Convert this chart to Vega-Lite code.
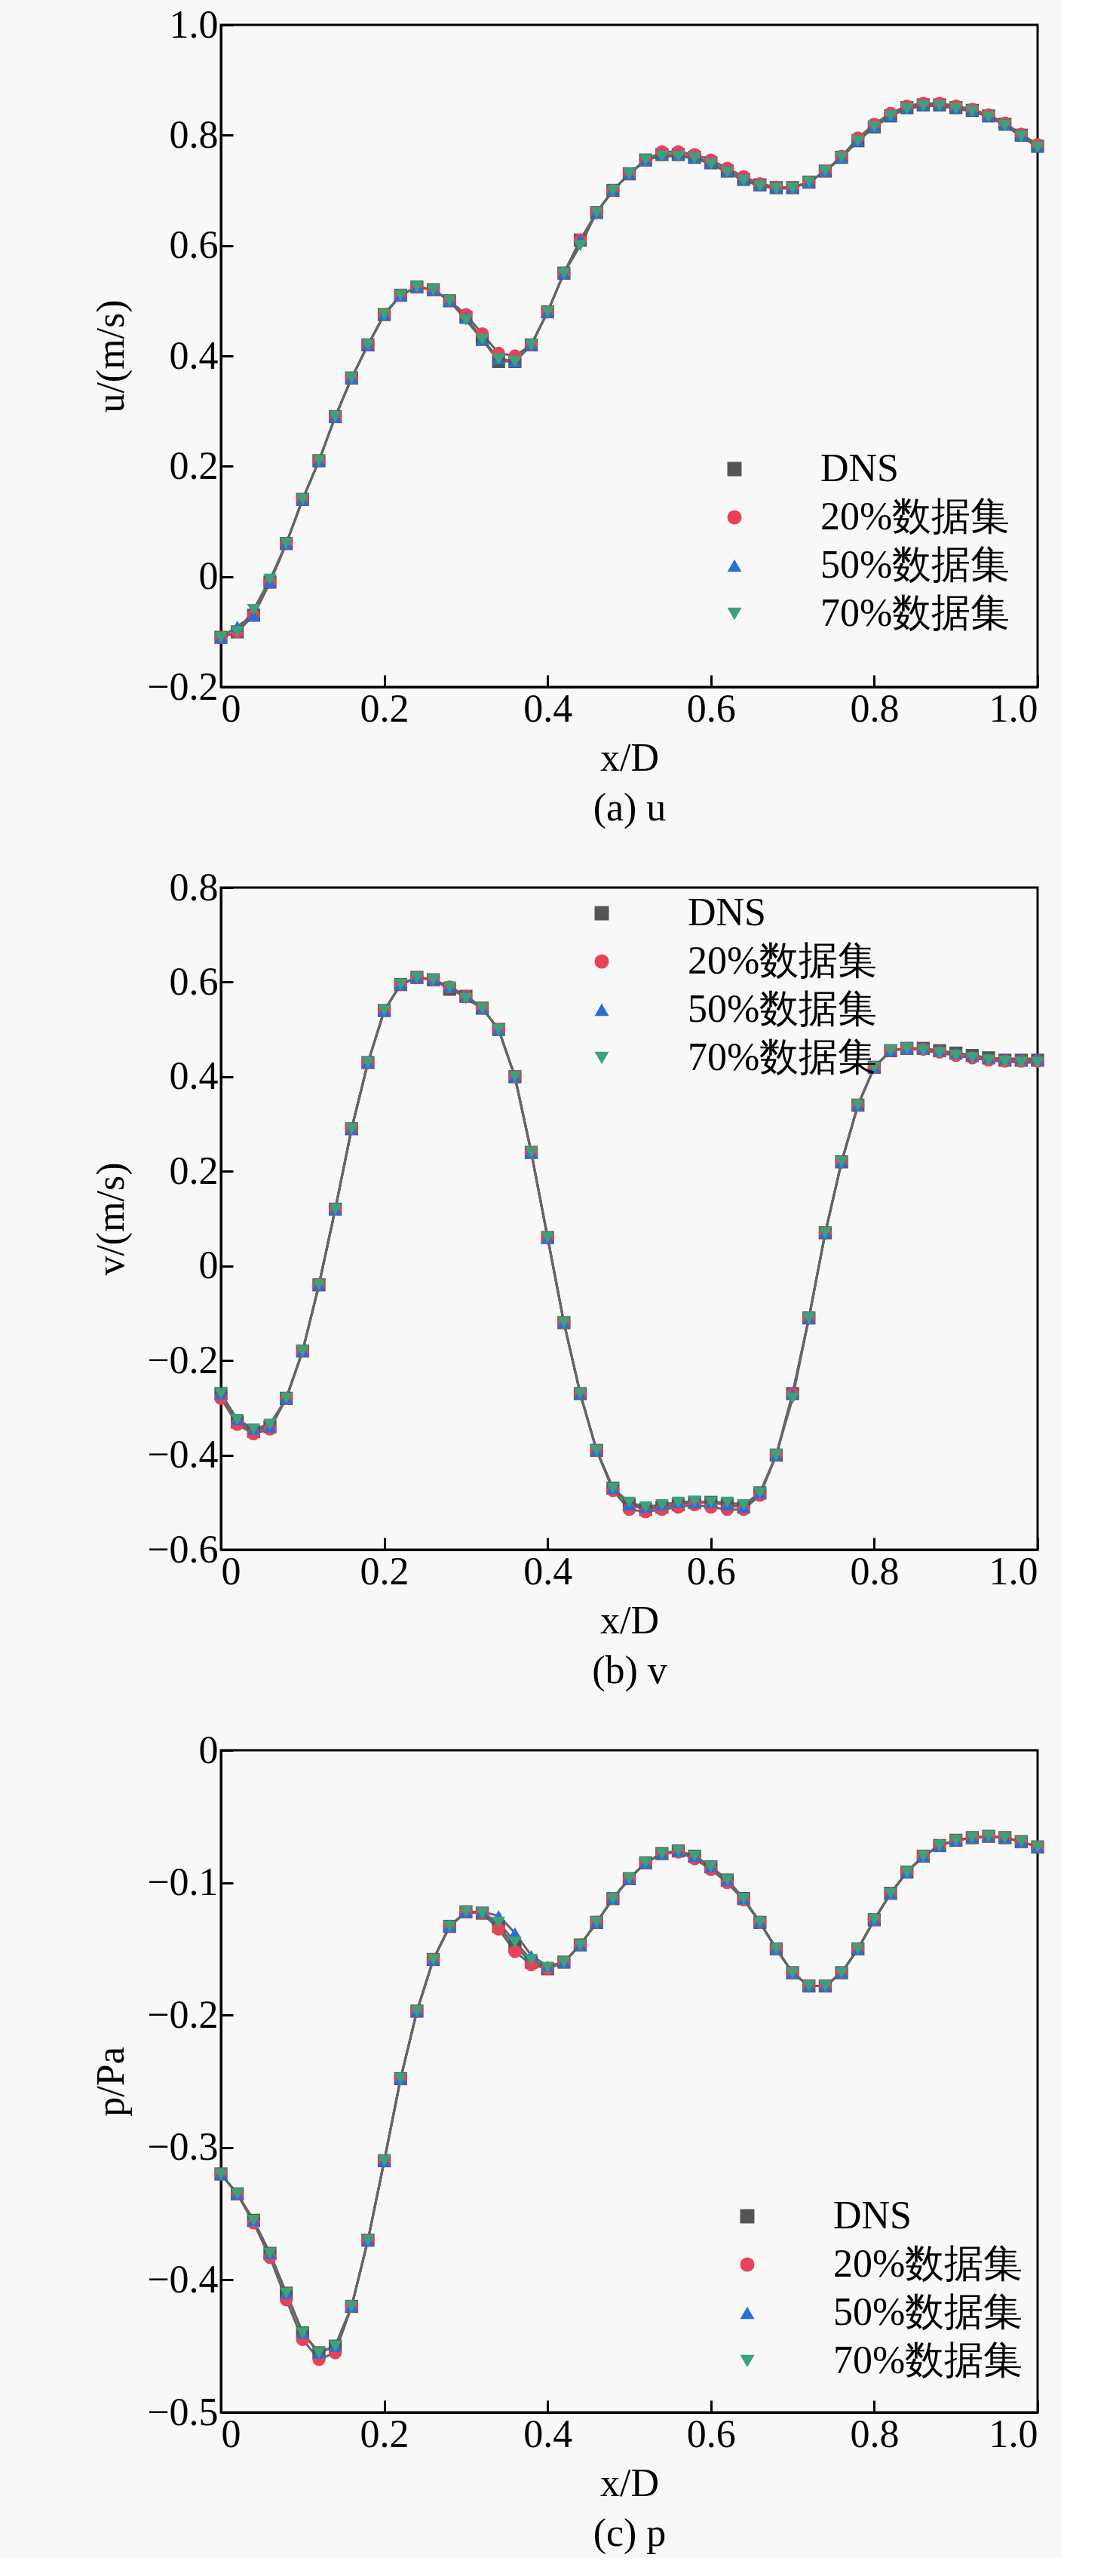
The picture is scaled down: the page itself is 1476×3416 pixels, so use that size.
{
  "$schema": "https://vega.github.io/schema/vega-lite/v6.json",
  "background": "#f8f8f8",
  "padding": {"left": 120, "top": 5, "right": 20, "bottom": 5},
  "spacing": 50,
  "resolve": {"legend": {"color": "independent", "shape": "independent"}},
  "config": {
    "font": "Liberation Serif",
    "view": {"stroke": "#000", "strokeWidth": 3},
    "axis": {"labelFont": "Liberation Serif", "titleFont": "Liberation Serif", "labelFontSize": 52, "titleFontSize": 52, "titleFontWeight": "normal", "labelColor": "#000", "titleColor": "#000", "domainColor": "#000", "domainWidth": 3, "tickColor": "#000", "tickWidth": 3, "tickSize": -16, "labelPadding": 20, "grid": false, "titleLineHeight": 66},
    "legend": {"labelFont": "Liberation Serif", "labelFontSize": 52, "labelColor": "#000", "labelLimit": 0, "symbolSize": 360, "symbolStrokeWidth": 3, "rowPadding": 12, "labelOffset": 88},
    "line": {"strokeWidth": 3},
    "point": {"filled": true, "size": 300, "opacity": 1}
  },
  "vconcat": [
    {
      "width": 1083, "height": 878,
      "data": {"values": [
        {"x":0,"DNS":-0.11,"20%数据集":-0.11,"50%数据集":-0.11,"70%数据集":-0.11},
        {"x":0.02,"DNS":-0.1,"20%数据集":-0.1,"50%数据集":-0.09,"70%数据集":-0.1},
        {"x":0.04,"DNS":-0.07,"20%数据集":-0.07,"50%数据集":-0.07,"70%数据集":-0.06},
        {"x":0.06,"DNS":-0.01,"20%数据集":-0.01,"50%数据集":-0.01,"70%数据集":-0.005},
        {"x":0.08,"DNS":0.06,"20%数据集":0.06,"50%数据集":0.06,"70%数据集":0.06},
        {"x":0.1,"DNS":0.14,"20%数据集":0.14,"50%数据集":0.14,"70%数据集":0.14},
        {"x":0.12,"DNS":0.21,"20%数据集":0.21,"50%数据集":0.21,"70%数据集":0.21},
        {"x":0.14,"DNS":0.29,"20%数据集":0.29,"50%数据集":0.29,"70%数据集":0.29},
        {"x":0.16,"DNS":0.36,"20%数据集":0.36,"50%数据集":0.36,"70%数据集":0.36},
        {"x":0.18,"DNS":0.42,"20%数据集":0.42,"50%数据集":0.42,"70%数据集":0.42},
        {"x":0.2,"DNS":0.475,"20%数据集":0.475,"50%数据集":0.475,"70%数据集":0.475},
        {"x":0.22,"DNS":0.51,"20%数据集":0.51,"50%数据集":0.51,"70%数据集":0.51},
        {"x":0.24,"DNS":0.525,"20%数据集":0.525,"50%数据集":0.525,"70%数据集":0.525},
        {"x":0.26,"DNS":0.52,"20%数据集":0.52,"50%数据集":0.52,"70%数据集":0.52},
        {"x":0.28,"DNS":0.5,"20%数据集":0.5,"50%数据集":0.5,"70%数据集":0.5},
        {"x":0.3,"DNS":0.47,"20%数据集":0.475,"50%数据集":0.47,"70%数据集":0.465},
        {"x":0.32,"DNS":0.43,"20%数据集":0.44,"50%数据集":0.43,"70%数据集":0.43},
        {"x":0.34,"DNS":0.39,"20%数据集":0.405,"50%数据集":0.395,"70%数据集":0.395},
        {"x":0.36,"DNS":0.39,"20%数据集":0.4,"50%数据集":0.39,"70%数据集":0.39},
        {"x":0.38,"DNS":0.42,"20%数据集":0.42,"50%数据集":0.42,"70%数据集":0.42},
        {"x":0.4,"DNS":0.48,"20%数据集":0.48,"50%数据集":0.48,"70%数据集":0.48},
        {"x":0.42,"DNS":0.55,"20%数据集":0.55,"50%数据集":0.55,"70%数据集":0.55},
        {"x":0.44,"DNS":0.61,"20%数据集":0.61,"50%数据集":0.61,"70%数据集":0.6},
        {"x":0.46,"DNS":0.66,"20%数据集":0.66,"50%数据集":0.66,"70%数据集":0.66},
        {"x":0.48,"DNS":0.7,"20%数据集":0.7,"50%数据集":0.7,"70%数据集":0.7},
        {"x":0.5,"DNS":0.73,"20%数据集":0.73,"50%数据集":0.73,"70%数据集":0.73},
        {"x":0.52,"DNS":0.755,"20%数据集":0.755,"50%数据集":0.755,"70%数据集":0.755},
        {"x":0.54,"DNS":0.765,"20%数据集":0.77,"50%数据集":0.765,"70%数据集":0.762},
        {"x":0.56,"DNS":0.765,"20%数据集":0.77,"50%数据集":0.765,"70%数据集":0.762},
        {"x":0.58,"DNS":0.76,"20%数据集":0.765,"50%数据集":0.76,"70%数据集":0.758},
        {"x":0.6,"DNS":0.75,"20%数据集":0.755,"50%数据集":0.75,"70%数据集":0.748},
        {"x":0.62,"DNS":0.735,"20%数据集":0.74,"50%数据集":0.735,"70%数据集":0.733},
        {"x":0.64,"DNS":0.72,"20%数据集":0.725,"50%数据集":0.72,"70%数据集":0.718},
        {"x":0.66,"DNS":0.71,"20%数据集":0.712,"50%数据集":0.71,"70%数据集":0.708},
        {"x":0.68,"DNS":0.705,"20%数据集":0.706,"50%数据集":0.705,"70%数据集":0.703},
        {"x":0.7,"DNS":0.705,"20%数据集":0.705,"50%数据集":0.705,"70%数据集":0.704},
        {"x":0.72,"DNS":0.715,"20%数据集":0.715,"50%数据集":0.715,"70%数据集":0.715},
        {"x":0.74,"DNS":0.735,"20%数据集":0.735,"50%数据集":0.735,"70%数据集":0.735},
        {"x":0.76,"DNS":0.76,"20%数据集":0.762,"50%数据集":0.76,"70%数据集":0.76},
        {"x":0.78,"DNS":0.79,"20%数据集":0.795,"50%数据集":0.79,"70%数据集":0.79},
        {"x":0.8,"DNS":0.815,"20%数据集":0.82,"50%数据集":0.815,"70%数据集":0.815},
        {"x":0.82,"DNS":0.835,"20%数据集":0.84,"50%数据集":0.835,"70%数据集":0.835},
        {"x":0.84,"DNS":0.85,"20%数据集":0.853,"50%数据集":0.85,"70%数据集":0.848},
        {"x":0.86,"DNS":0.855,"20%数据集":0.858,"50%数据集":0.855,"70%数据集":0.853},
        {"x":0.88,"DNS":0.855,"20%数据集":0.858,"50%数据集":0.855,"70%数据集":0.853},
        {"x":0.9,"DNS":0.85,"20%数据集":0.853,"50%数据集":0.85,"70%数据集":0.848},
        {"x":0.92,"DNS":0.845,"20%数据集":0.847,"50%数据集":0.845,"70%数据集":0.843},
        {"x":0.94,"DNS":0.835,"20%数据集":0.837,"50%数据集":0.835,"70%数据集":0.833},
        {"x":0.96,"DNS":0.82,"20%数据集":0.822,"50%数据集":0.82,"70%数据集":0.818},
        {"x":0.98,"DNS":0.8,"20%数据集":0.802,"50%数据集":0.8,"70%数据集":0.798},
        {"x":1,"DNS":0.78,"20%数据集":0.783,"50%数据集":0.78,"70%数据集":0.778}
      ]},
      "transform": [{"fold": ["DNS", "20%数据集", "50%数据集", "70%数据集"], "as": ["series", "value"]}],
      "encoding": {
        "x": {"field": "x", "type": "quantitative", "scale": {"domain": [0, 1], "nice": false}, "axis": {"values": [0, 0.2, 0.4, 0.6, 0.8, 1], "labelExpr": "datum.value == 0 ? '0' : format(datum.value, '.1f')", "title": ["x/D", "(a) u"], "titlePadding": 14}},
        "y": {"field": "value", "type": "quantitative", "scale": {"domain": [-0.2, 1], "nice": false}, "axis": {"values": [-0.2, 0, 0.2, 0.4, 0.6, 0.8, 1], "labelExpr": "datum.value == 0 ? '0' : replace(format(datum.value, '.1f'), '-', '−')", "title": "u/(m/s)", "titlePadding": 20}}
      },
      "layer": [
        {"mark": {"type": "line", "color": "#666666"}, "encoding": {"detail": {"field": "series"}}},
        {"mark": {"type": "point"}, "encoding": {
          "color": {"field": "series", "type": "nominal", "scale": {"domain": ["DNS", "20%数据集", "50%数据集", "70%数据集"], "range": ["#555555", "#e8415a", "#2a6fd6", "#3aa37a"]}, "legend": {"title": null, "orient": "none", "legendX": 655, "legendY": 563}},
          "shape": {"field": "series", "type": "nominal", "scale": {"domain": ["DNS", "20%数据集", "50%数据集", "70%数据集"], "range": ["square", "circle", "triangle-up", "triangle-down"]}, "legend": {"title": null, "orient": "none", "legendX": 655, "legendY": 563}}
        }}
      ]
    },
    {
      "width": 1083, "height": 878,
      "data": {"values": [
        {"x":0,"DNS":-0.27,"20%数据集":-0.28,"50%数据集":-0.27,"70%数据集":-0.27},
        {"x":0.02,"DNS":-0.33,"20%数据集":-0.335,"50%数据集":-0.325,"70%数据集":-0.325},
        {"x":0.04,"DNS":-0.35,"20%数据集":-0.355,"50%数据集":-0.345,"70%数据集":-0.345},
        {"x":0.06,"DNS":-0.34,"20%数据集":-0.345,"50%数据集":-0.34,"70%数据集":-0.335},
        {"x":0.08,"DNS":-0.28,"20%数据集":-0.28,"50%数据集":-0.28,"70%数据集":-0.28},
        {"x":0.1,"DNS":-0.18,"20%数据集":-0.18,"50%数据集":-0.18,"70%数据集":-0.18},
        {"x":0.12,"DNS":-0.04,"20%数据集":-0.04,"50%数据集":-0.04,"70%数据集":-0.04},
        {"x":0.14,"DNS":0.12,"20%数据集":0.12,"50%数据集":0.12,"70%数据集":0.12},
        {"x":0.16,"DNS":0.29,"20%数据集":0.29,"50%数据集":0.29,"70%数据集":0.29},
        {"x":0.18,"DNS":0.43,"20%数据集":0.43,"50%数据集":0.43,"70%数据集":0.43},
        {"x":0.2,"DNS":0.54,"20%数据集":0.54,"50%数据集":0.54,"70%数据集":0.54},
        {"x":0.22,"DNS":0.595,"20%数据集":0.595,"50%数据集":0.595,"70%数据集":0.595},
        {"x":0.24,"DNS":0.61,"20%数据集":0.61,"50%数据集":0.61,"70%数据集":0.61},
        {"x":0.26,"DNS":0.605,"20%数据集":0.605,"50%数据集":0.605,"70%数据集":0.605},
        {"x":0.28,"DNS":0.585,"20%数据集":0.59,"50%数据集":0.59,"70%数据集":0.59},
        {"x":0.3,"DNS":0.57,"20%数据集":0.57,"50%数据集":0.572,"70%数据集":0.565},
        {"x":0.32,"DNS":0.545,"20%数据集":0.545,"50%数据集":0.545,"70%数据集":0.545},
        {"x":0.34,"DNS":0.5,"20%数据集":0.5,"50%数据集":0.5,"70%数据集":0.5},
        {"x":0.36,"DNS":0.4,"20%数据集":0.4,"50%数据集":0.4,"70%数据集":0.4},
        {"x":0.38,"DNS":0.24,"20%数据集":0.24,"50%数据集":0.24,"70%数据集":0.24},
        {"x":0.4,"DNS":0.06,"20%数据集":0.06,"50%数据集":0.06,"70%数据集":0.06},
        {"x":0.42,"DNS":-0.12,"20%数据集":-0.12,"50%数据集":-0.12,"70%数据集":-0.12},
        {"x":0.44,"DNS":-0.27,"20%数据集":-0.27,"50%数据集":-0.27,"70%数据集":-0.27},
        {"x":0.46,"DNS":-0.39,"20%数据集":-0.39,"50%数据集":-0.39,"70%数据集":-0.39},
        {"x":0.48,"DNS":-0.47,"20%数据集":-0.475,"50%数据集":-0.47,"70%数据集":-0.47},
        {"x":0.5,"DNS":-0.505,"20%数据集":-0.515,"50%数据集":-0.505,"70%数据集":-0.5},
        {"x":0.52,"DNS":-0.515,"20%数据集":-0.52,"50%数据集":-0.51,"70%数据集":-0.51},
        {"x":0.54,"DNS":-0.51,"20%数据集":-0.515,"50%数据集":-0.505,"70%数据集":-0.505},
        {"x":0.56,"DNS":-0.505,"20%数据集":-0.51,"50%数据集":-0.5,"70%数据集":-0.5},
        {"x":0.58,"DNS":-0.5,"20%数据集":-0.505,"50%数据集":-0.5,"70%数据集":-0.498},
        {"x":0.6,"DNS":-0.5,"20%数据集":-0.51,"50%数据集":-0.5,"70%数据集":-0.5},
        {"x":0.62,"DNS":-0.505,"20%数据集":-0.515,"50%数据集":-0.505,"70%数据集":-0.5},
        {"x":0.64,"DNS":-0.51,"20%数据集":-0.515,"50%数据集":-0.51,"70%数据集":-0.505},
        {"x":0.66,"DNS":-0.48,"20%数据集":-0.485,"50%数据集":-0.48,"70%数据集":-0.48},
        {"x":0.68,"DNS":-0.4,"20%数据集":-0.4,"50%数据集":-0.4,"70%数据集":-0.4},
        {"x":0.7,"DNS":-0.27,"20%数据集":-0.27,"50%数据集":-0.27,"70%数据集":-0.28},
        {"x":0.72,"DNS":-0.11,"20%数据集":-0.11,"50%数据集":-0.11,"70%数据集":-0.11},
        {"x":0.74,"DNS":0.07,"20%数据集":0.07,"50%数据集":0.07,"70%数据集":0.07},
        {"x":0.76,"DNS":0.22,"20%数据集":0.22,"50%数据集":0.22,"70%数据集":0.22},
        {"x":0.78,"DNS":0.34,"20%数据集":0.34,"50%数据集":0.34,"70%数据集":0.34},
        {"x":0.8,"DNS":0.42,"20%数据集":0.42,"50%数据集":0.42,"70%数据集":0.42},
        {"x":0.82,"DNS":0.455,"20%数据集":0.455,"50%数据集":0.455,"70%数据集":0.455},
        {"x":0.84,"DNS":0.46,"20%数据集":0.46,"50%数据集":0.46,"70%数据集":0.46},
        {"x":0.86,"DNS":0.46,"20%数据集":0.458,"50%数据集":0.46,"70%数据集":0.456},
        {"x":0.88,"DNS":0.455,"20%数据集":0.452,"50%数据集":0.455,"70%数据集":0.45},
        {"x":0.9,"DNS":0.45,"20%数据集":0.445,"50%数据集":0.45,"70%数据集":0.445},
        {"x":0.92,"DNS":0.445,"20%数据集":0.44,"50%数据集":0.445,"70%数据集":0.44},
        {"x":0.94,"DNS":0.44,"20%数据集":0.435,"50%数据集":0.44,"70%数据集":0.435},
        {"x":0.96,"DNS":0.435,"20%数据集":0.433,"50%数据集":0.438,"70%数据集":0.432},
        {"x":0.98,"DNS":0.435,"20%数据集":0.433,"50%数据集":0.438,"70%数据集":0.43},
        {"x":1,"DNS":0.435,"20%数据集":0.433,"50%数据集":0.438,"70%数据集":0.43}
      ]},
      "transform": [{"fold": ["DNS", "20%数据集", "50%数据集", "70%数据集"], "as": ["series", "value"]}],
      "encoding": {
        "x": {"field": "x", "type": "quantitative", "scale": {"domain": [0, 1], "nice": false}, "axis": {"values": [0, 0.2, 0.4, 0.6, 0.8, 1], "labelExpr": "datum.value == 0 ? '0' : format(datum.value, '.1f')", "title": ["x/D", "(b) v"], "titlePadding": 14}},
        "y": {"field": "value", "type": "quantitative", "scale": {"domain": [-0.6, 0.8], "nice": false}, "axis": {"values": [-0.6, -0.4, -0.2, 0, 0.2, 0.4, 0.6, 0.8], "labelExpr": "datum.value == 0 ? '0' : replace(format(datum.value, '.1f'), '-', '−')", "title": "v/(m/s)", "titlePadding": 20}}
      },
      "layer": [
        {"mark": {"type": "line", "color": "#666666"}, "encoding": {"detail": {"field": "series"}}},
        {"mark": {"type": "point"}, "encoding": {
          "color": {"field": "series", "type": "nominal", "scale": {"domain": ["DNS", "20%数据集", "50%数据集", "70%数据集"], "range": ["#555555", "#e8415a", "#2a6fd6", "#3aa37a"]}, "legend": {"title": null, "orient": "none", "legendX": 479, "legendY": 8}},
          "shape": {"field": "series", "type": "nominal", "scale": {"domain": ["DNS", "20%数据集", "50%数据集", "70%数据集"], "range": ["square", "circle", "triangle-up", "triangle-down"]}, "legend": {"title": null, "orient": "none", "legendX": 479, "legendY": 8}}
        }}
      ]
    },
    {
      "width": 1083, "height": 878,
      "data": {"values": [
        {"x":0,"DNS":-0.32,"20%数据集":-0.32,"50%数据集":-0.32,"70%数据集":-0.32},
        {"x":0.02,"DNS":-0.335,"20%数据集":-0.335,"50%数据集":-0.335,"70%数据集":-0.335},
        {"x":0.04,"DNS":-0.355,"20%数据集":-0.357,"50%数据集":-0.355,"70%数据集":-0.355},
        {"x":0.06,"DNS":-0.38,"20%数据集":-0.383,"50%数据集":-0.38,"70%数据集":-0.38},
        {"x":0.08,"DNS":-0.41,"20%数据集":-0.415,"50%数据集":-0.41,"70%数据集":-0.41},
        {"x":0.1,"DNS":-0.44,"20%数据集":-0.445,"50%数据集":-0.44,"70%数据集":-0.44},
        {"x":0.12,"DNS":-0.455,"20%数据集":-0.46,"50%数据集":-0.455,"70%数据集":-0.455},
        {"x":0.14,"DNS":-0.45,"20%数据集":-0.455,"50%数据集":-0.45,"70%数据集":-0.45},
        {"x":0.16,"DNS":-0.42,"20%数据集":-0.42,"50%数据集":-0.42,"70%数据集":-0.42},
        {"x":0.18,"DNS":-0.37,"20%数据集":-0.37,"50%数据集":-0.37,"70%数据集":-0.37},
        {"x":0.2,"DNS":-0.31,"20%数据集":-0.31,"50%数据集":-0.31,"70%数据集":-0.31},
        {"x":0.22,"DNS":-0.248,"20%数据集":-0.248,"50%数据集":-0.248,"70%数据集":-0.248},
        {"x":0.24,"DNS":-0.197,"20%数据集":-0.197,"50%数据集":-0.197,"70%数据集":-0.197},
        {"x":0.26,"DNS":-0.158,"20%数据集":-0.158,"50%数据集":-0.158,"70%数据集":-0.158},
        {"x":0.28,"DNS":-0.133,"20%数据集":-0.133,"50%数据集":-0.133,"70%数据集":-0.133},
        {"x":0.3,"DNS":-0.122,"20%数据集":-0.122,"50%数据集":-0.122,"70%数据集":-0.122},
        {"x":0.32,"DNS":-0.123,"20%数据集":-0.123,"50%数据集":-0.122,"70%数据集":-0.123},
        {"x":0.34,"DNS":-0.133,"20%数据集":-0.135,"50%数据集":-0.125,"70%数据集":-0.13},
        {"x":0.36,"DNS":-0.148,"20%数据集":-0.152,"50%数据集":-0.138,"70%数据集":-0.145},
        {"x":0.38,"DNS":-0.16,"20%数据集":-0.162,"50%数据集":-0.155,"70%数据集":-0.158},
        {"x":0.4,"DNS":-0.165,"20%数据集":-0.165,"50%数据集":-0.163,"70%数据集":-0.164},
        {"x":0.42,"DNS":-0.16,"20%数据集":-0.16,"50%数据集":-0.16,"70%数据集":-0.16},
        {"x":0.44,"DNS":-0.147,"20%数据集":-0.147,"50%数据集":-0.147,"70%数据集":-0.147},
        {"x":0.46,"DNS":-0.13,"20%数据集":-0.13,"50%数据集":-0.13,"70%数据集":-0.13},
        {"x":0.48,"DNS":-0.112,"20%数据集":-0.112,"50%数据集":-0.112,"70%数据集":-0.112},
        {"x":0.5,"DNS":-0.097,"20%数据集":-0.097,"50%数据集":-0.097,"70%数据集":-0.097},
        {"x":0.52,"DNS":-0.085,"20%数据集":-0.085,"50%数据集":-0.085,"70%数据集":-0.085},
        {"x":0.54,"DNS":-0.078,"20%数据集":-0.078,"50%数据集":-0.078,"70%数据集":-0.078},
        {"x":0.56,"DNS":-0.076,"20%数据集":-0.077,"50%数据集":-0.076,"70%数据集":-0.076},
        {"x":0.58,"DNS":-0.08,"20%数据集":-0.082,"50%数据集":-0.08,"70%数据集":-0.08},
        {"x":0.6,"DNS":-0.088,"20%数据集":-0.09,"50%数据集":-0.088,"70%数据集":-0.088},
        {"x":0.62,"DNS":-0.098,"20%数据集":-0.1,"50%数据集":-0.098,"70%数据集":-0.098},
        {"x":0.64,"DNS":-0.112,"20%数据集":-0.113,"50%数据集":-0.112,"70%数据集":-0.112},
        {"x":0.66,"DNS":-0.13,"20%数据集":-0.13,"50%数据集":-0.13,"70%数据集":-0.13},
        {"x":0.68,"DNS":-0.15,"20%数据集":-0.15,"50%数据集":-0.15,"70%数据集":-0.15},
        {"x":0.7,"DNS":-0.168,"20%数据集":-0.168,"50%数据集":-0.168,"70%数据集":-0.168},
        {"x":0.72,"DNS":-0.178,"20%数据集":-0.178,"50%数据集":-0.178,"70%数据集":-0.178},
        {"x":0.74,"DNS":-0.178,"20%数据集":-0.178,"50%数据集":-0.178,"70%数据集":-0.178},
        {"x":0.76,"DNS":-0.168,"20%数据集":-0.168,"50%数据集":-0.168,"70%数据集":-0.168},
        {"x":0.78,"DNS":-0.15,"20%数据集":-0.15,"50%数据集":-0.15,"70%数据集":-0.15},
        {"x":0.8,"DNS":-0.128,"20%数据集":-0.128,"50%数据集":-0.128,"70%数据集":-0.128},
        {"x":0.82,"DNS":-0.108,"20%数据集":-0.108,"50%数据集":-0.108,"70%数据集":-0.108},
        {"x":0.84,"DNS":-0.092,"20%数据集":-0.092,"50%数据集":-0.092,"70%数据集":-0.092},
        {"x":0.86,"DNS":-0.08,"20%数据集":-0.08,"50%数据集":-0.08,"70%数据集":-0.08},
        {"x":0.88,"DNS":-0.072,"20%数据集":-0.072,"50%数据集":-0.072,"70%数据集":-0.072},
        {"x":0.9,"DNS":-0.068,"20%数据集":-0.068,"50%数据集":-0.068,"70%数据集":-0.068},
        {"x":0.92,"DNS":-0.066,"20%数据集":-0.066,"50%数据集":-0.066,"70%数据集":-0.066},
        {"x":0.94,"DNS":-0.065,"20%数据集":-0.065,"50%数据集":-0.065,"70%数据集":-0.065},
        {"x":0.96,"DNS":-0.066,"20%数据集":-0.066,"50%数据集":-0.066,"70%数据集":-0.066},
        {"x":0.98,"DNS":-0.069,"20%数据集":-0.069,"50%数据集":-0.069,"70%数据集":-0.069},
        {"x":1,"DNS":-0.073,"20%数据集":-0.073,"50%数据集":-0.073,"70%数据集":-0.073}
      ]},
      "transform": [{"fold": ["DNS", "20%数据集", "50%数据集", "70%数据集"], "as": ["series", "value"]}],
      "encoding": {
        "x": {"field": "x", "type": "quantitative", "scale": {"domain": [0, 1], "nice": false}, "axis": {"values": [0, 0.2, 0.4, 0.6, 0.8, 1], "labelExpr": "datum.value == 0 ? '0' : format(datum.value, '.1f')", "title": ["x/D", "(c) p"], "titlePadding": 14}},
        "y": {"field": "value", "type": "quantitative", "scale": {"domain": [-0.5, 0], "nice": false}, "axis": {"values": [-0.5, -0.4, -0.3, -0.2, -0.1, 0], "labelExpr": "datum.value == 0 ? '0' : replace(format(datum.value, '.1f'), '-', '−')", "title": "p/Pa", "titlePadding": 20}}
      },
      "layer": [
        {"mark": {"type": "line", "color": "#666666"}, "encoding": {"detail": {"field": "series"}}},
        {"mark": {"type": "point"}, "encoding": {
          "color": {"field": "series", "type": "nominal", "scale": {"domain": ["DNS", "20%数据集", "50%数据集", "70%数据集"], "range": ["#555555", "#e8415a", "#2a6fd6", "#3aa37a"]}, "legend": {"title": null, "orient": "none", "legendX": 672, "legendY": 592}},
          "shape": {"field": "series", "type": "nominal", "scale": {"domain": ["DNS", "20%数据集", "50%数据集", "70%数据集"], "range": ["square", "circle", "triangle-up", "triangle-down"]}, "legend": {"title": null, "orient": "none", "legendX": 672, "legendY": 592}}
        }}
      ]
    }
  ]
}
